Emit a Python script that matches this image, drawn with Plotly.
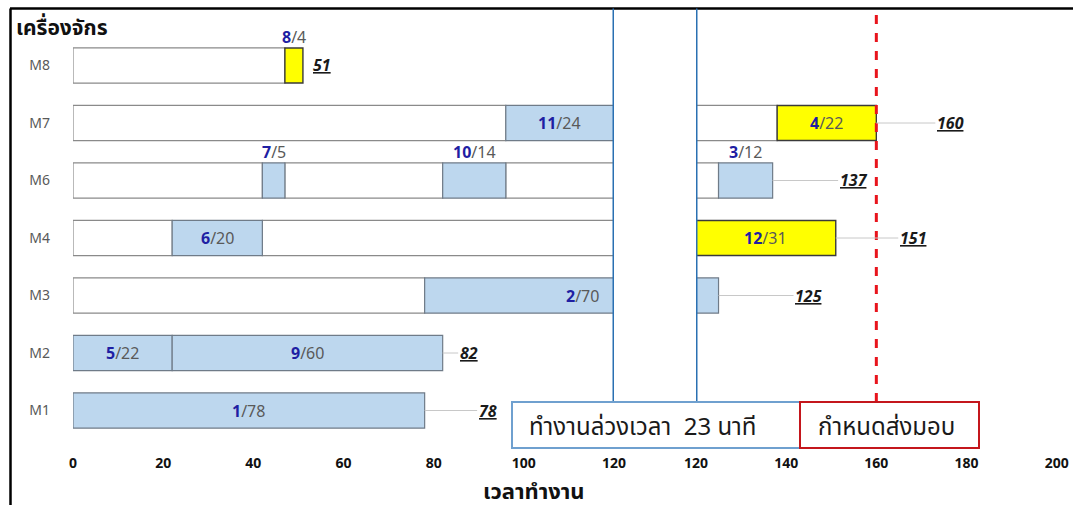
import plotly.graph_objects as go

# Machines, bottom row first
machines = ["M1", "M2", "M3", "M4", "M6", "M7", "M8"]

# Jobs scheduled on each machine (start in shop-clock minutes, processing time in minutes)
job_id = [1, 5, 9, 2, 6, 12, 7, 10, 3, 11, 4, 8]
job_machine = ["M1", "M2", "M2", "M3", "M4", "M4", "M6", "M6", "M6", "M7", "M7", "M8"]
job_start = [0, 0, 22, 78, 22, 120, 42, 82, 125, 96, 138, 47]
job_time = [78, 22, 60, 70, 20, 31, 5, 14, 12, 24, 22, 4]
highlighted_jobs = [12, 4, 8]

shift_end = 120      # end of regular working time
overtime = 23        # overtime minutes worked at the shift boundary
due_date = 160       # delivery deadline

left_ticks = [0, 20, 40, 60, 80, 100, 120]
right_ticks = [120, 140, 160, 180, 200]

# Horizontal offset (px) of each machine's finish label from its last bar
end_label_dx = {"M1": 63, "M2": 26, "M3": 90, "M4": 77, "M6": 81, "M7": 74, "M8": 19}

W, H = 1073, 505
FONT = "Noto Sans, Noto Sans Thai, Tahoma, sans-serif"
BLUE_FILL = "#bdd7ee"
YELLOW_FILL = "#ffff00"
BAR_W = 0.61


def px_x(p):
    return p / W


def px_y(p):
    return 1 - p / H


def split_job(start, dur):
    end = start + dur
    if start < shift_end < end:
        return [("x", start, shift_end), ("x2", shift_end, end - overtime)]
    return [("x" if start < shift_end else "x2", start, end)]


def split_gap(a, b):
    if a < shift_end < b:
        return [("x", a, shift_end), ("x2", shift_end, b)]
    return [("x" if a < shift_end else "x2", a, b)]


segments = {}  # (axis, kind) -> lists


def add_seg(axis, kind, m, a, b):
    d = segments.setdefault((axis, kind), {"y": [], "base": [], "len": []})
    d["y"].append(m)
    d["base"].append(a)
    d["len"].append(b - a)


machine_end = {}
for m in machines:
    jobs = sorted([i for i, jm in enumerate(job_machine) if jm == m], key=lambda i: job_start[i])
    prev = 0
    for i in jobs:
        s = job_start[i]
        if s > prev:
            for axis, a, b in split_gap(prev, s):
                add_seg(axis, "idle", m, a, b)
        kind = "yellow" if job_id[i] in highlighted_jobs else "blue"
        pieces = split_job(s, job_time[i])
        for axis, a, b in pieces:
            add_seg(axis, kind, m, a, b)
        prev = pieces[-1][2]
    machine_end[m] = prev

styles = {
    "idle": dict(color="white", line=dict(color="#8a8a8a", width=1.2)),
    "blue": dict(color=BLUE_FILL, line=dict(color="#6f7b88", width=1.2)),
    "yellow": dict(color=YELLOW_FILL, line=dict(color="#3a3a3a", width=1.4)),
}

fig = go.Figure()
for kind in ["idle", "blue", "yellow"]:
    for axis in ["x", "x2"]:
        d = segments.get((axis, kind))
        if not d:
            continue
        fig.add_trace(go.Bar(
            orientation="h", y=d["y"], x=d["len"], base=d["base"],
            xaxis=axis, yaxis="y", width=BAR_W, marker=styles[kind],
            hoverinfo="skip", showlegend=False,
        ))

annotations = []

# Job labels: job number / processing time
for i in range(len(job_id)):
    s, t = job_start[i], job_time[i]
    axis = "x" if s < shift_end else "x2"
    center = s + t / 2
    txt = (f"<b><span style='color:#1f1fa3'>{job_id[i]}</span></b>"
           f"<span style='color:#595959'>/{t}</span>")
    if t >= 20:
        annotations.append(dict(x=center, y=job_machine[i], xref=axis, yref="y", text=txt,
                                showarrow=False, xanchor="center", yanchor="middle",
                                font=dict(size=16, family=FONT)))
    else:
        annotations.append(dict(x=center, y=job_machine[i], xref=axis, yref="y", text=txt,
                                showarrow=False, xanchor="center", yanchor="bottom", yshift=15,
                                font=dict(size=16, family=FONT)))

# Finish time of each machine
for m in machines:
    end = machine_end[m]
    axis = "x2" if end > shift_end else "x"
    txt = f"<b><i><u>{end}</u></i></b>"
    common = dict(x=end, y=m, xref=axis, yref="y", text=txt,
                  xanchor="center", yanchor="middle",
                  font=dict(size=16, family=FONT, color="#1a1a1a"))
    if m == "M8":
        annotations.append(dict(**common, showarrow=False, xshift=end_label_dx[m]))
    else:
        annotations.append(dict(**common, showarrow=True, arrowhead=0, arrowwidth=1,
                                arrowcolor="#c8c8c8", ax=end_label_dx[m], ay=0, standoff=0))

# Boxes below the break and deadline
box_top, box_bot = px_y(402), px_y(448)
annotations += [
    dict(x=px_x(527), y=px_y(425), xref="paper", yref="paper", xanchor="left", yanchor="middle",
         text=f"ทำงานล่วงเวลา  {overtime} นาที", showarrow=False,
         font=dict(size=24, family=FONT, color="#1a1a1a")),
    dict(x=px_x(886), y=px_y(425), xref="paper", yref="paper", xanchor="center", yanchor="middle",
         text="กำหนดส่งมอบ", showarrow=False,
         font=dict(size=24, family=FONT, color="#1a1a1a")),
    dict(x=px_x(14), y=px_y(27), xref="paper", yref="paper", xanchor="left", yanchor="middle",
         text="<b>เครื่องจักร</b>", showarrow=False,
         font=dict(size=21, family=FONT, color="#111111")),
    dict(x=px_x(534), y=px_y(490), xref="paper", yref="paper", xanchor="center", yanchor="middle",
         text="<b>เวลาทำงาน</b>", showarrow=False,
         font=dict(size=22, family=FONT, color="#111111")),
]

frame_top = px_y(8.5)
shapes = [
    # frame
    dict(type="line", xref="paper", yref="paper", x0=px_x(10), x1=1, y0=frame_top, y1=frame_top,
         line=dict(color="black", width=2.5)),
    dict(type="line", xref="paper", yref="paper", x0=px_x(10.5), x1=px_x(10.5), y0=0, y1=frame_top,
         line=dict(color="black", width=2.5)),
    # break edges
    dict(type="line", xref="x", yref="paper", x0=shift_end, x1=shift_end, y0=box_top, y1=frame_top,
         line=dict(color="#2a70b2", width=3)),
    dict(type="line", xref="x2", yref="paper", x0=shift_end, x1=shift_end, y0=box_top, y1=frame_top,
         line=dict(color="#2a70b2", width=3)),
    # deadline
    dict(type="line", xref="x2", yref="paper", x0=due_date, x1=due_date, y0=box_top, y1=frame_top,
         line=dict(color="#e8141c", width=3, dash="dash")),
    # boxes
    dict(type="rect", xref="paper", yref="paper", x0=px_x(512), x1=px_x(800), y0=box_bot, y1=box_top,
         line=dict(color="#6fa0cf", width=2), fillcolor="white"),
    dict(type="rect", xref="paper", yref="paper", x0=px_x(800), x1=px_x(979), y0=box_bot, y1=box_top,
         line=dict(color="#c4161c", width=2), fillcolor="white"),
]

plot_left, plot_break_l, plot_break_r = 73, 614, 696
scale = (plot_break_l - plot_left) / (left_ticks[-1] - left_ticks[0])
plot_right = plot_break_r + scale * (right_ticks[-1] - right_ticks[0])

xaxis_common = dict(showgrid=False, zeroline=False, showline=False, ticks="",
                    tickfont=dict(size=14, family=FONT, color="#111111", weight="bold"),
                    ticklabelstandoff=14, anchor="y", fixedrange=True, automargin=False)

fig.update_layout(
    width=W, height=H,
    margin=dict(l=0, r=0, t=0, b=0, autoexpand=False),
    paper_bgcolor="white", plot_bgcolor="white",
    barmode="overlay",
    showlegend=False,
    xaxis=dict(domain=[px_x(plot_left), px_x(plot_break_l)],
               range=[left_ticks[0], left_ticks[-1]], tickvals=left_ticks, **xaxis_common),
    xaxis2=dict(domain=[px_x(plot_break_r), px_x(plot_right)],
                range=[right_ticks[0], right_ticks[-1]], tickvals=right_ticks, **xaxis_common),
    yaxis=dict(type="category", categoryarray=machines, categoryorder="array",
               range=[-0.5, len(machines) - 0.5],
               domain=[px_y(439.25), px_y(36.75)],
               showgrid=False, zeroline=False, showline=False, ticks="",
               tickfont=dict(size=14, family=FONT, color="#595959"),
               ticklabelstandoff=22, anchor="x", fixedrange=True, automargin=False),
    annotations=annotations,
    shapes=shapes,
)

fig.write_html("out.html")
